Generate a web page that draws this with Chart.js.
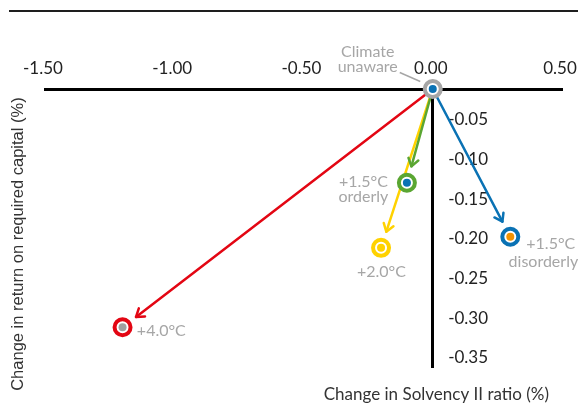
<!DOCTYPE html>
<html>
<head>
<meta charset="utf-8">
<script src="https://cdn.jsdelivr.net/npm/chart.js@4.4.1/dist/chart.umd.min.js"></script>
<style>
html,body{margin:0;padding:0;background:#fff;}
#wrap{position:relative;width:578px;height:403px;overflow:hidden;}
#rule{position:absolute;left:9px;top:10px;width:569px;border-top:2px solid #1e1e1e;}
canvas{display:block;}
</style>
</head>
<body>
<div id="wrap"><canvas id="c" width="578" height="403"></canvas><div id="rule"></div></div>
<script>
// ---- data ----
const scenarios = ['Climate unaware', '+1.5°C orderly', '+2.0°C', '+1.5°C disorderly', '+4.0°C'];
const scenarioLabelLines = [['Climate', 'unaware'], ['+1.5°C', 'orderly'], ['+2.0°C'], ['+1.5°C', 'disorderly'], ['+4.0°C']];
const solvencyChange = [0, -0.10, -0.20, 0.30, -1.20];      // x: change in Solvency II ratio (%)
const returnChange   = [0, -0.118, -0.20, -0.186, -0.30];   // y: change in return on required capital (%)
const xTickValues = [-1.5, -1.0, -0.5, 0, 0.5];
const yTickValues = [-0.05, -0.10, -0.15, -0.20, -0.25, -0.30, -0.35];
const xTitle = 'Change in Solvency II ratio (%)';
const yTitle = 'Change in return on required capital (%)';

// ---- styles ----
const ringColors  = ['#A6A6A6', '#5AA632', '#FFD200', '#0A72B4', '#E30613'];
const dotColors   = ['#0A72B4', '#0A72B4', '#FFD200', '#F39200', '#A0A0A0'];
const arrowColors = [null, '#5AA632', '#FFD200', '#0A72B4', '#E30613'];
const arrowOrder  = [4, 2, 1, 3];
const arrowGap = 17;
const labelPlacement = [
  [{dx: -65, dy: -37.6, align: 'center'}, {dx: -65, dy: -22.6, align: 'center'}],
  [{dx: -43.5, dy: -1, align: 'center'}, {dx: -43.5, dy: 14.3, align: 'center'}],
  [{dx: 0.3, dy: 24.4, align: 'center'}],
  [{dx: 16, dy: 7.3, align: 'left'}, {dx: -1.7, dy: 25, align: 'left'}],
  [{dx: 14.3, dy: 4, align: 'left'}]
];
const leader = [-33, -16.5, -12.5, -7.5]; // relative to "Climate unaware" point

const points = solvencyChange.map((v, i) => ({x: v, y: returnChange[i]}));
const fmt = v => Number(v).toFixed(2);

const scenarioPlugin = {
  id: 'scenarioArrows',
  beforeDatasetsDraw(chart) {
    const {ctx, scales: {x, y}} = chart;
    const ox = x.getPixelForValue(solvencyChange[0]);
    const oy = y.getPixelForValue(returnChange[0]);
    ctx.save();
    ctx.lineWidth = 2.5;
    ctx.lineCap = 'round';
    ctx.lineJoin = 'round';
    arrowOrder.forEach(i => {
      const tx = x.getPixelForValue(solvencyChange[i]);
      const ty = y.getPixelForValue(returnChange[i]);
      const dx = tx - ox, dy = ty - oy, len = Math.hypot(dx, dy);
      const ex = tx - dx / len * arrowGap, ey = ty - dy / len * arrowGap;
      const a = Math.atan2(dy, dx), h = 9, s = 0.6;
      ctx.strokeStyle = arrowColors[i];
      ctx.beginPath();
      ctx.moveTo(ox, oy);
      ctx.lineTo(ex, ey);
      ctx.stroke();
      ctx.beginPath();
      ctx.moveTo(ex - h * Math.cos(a - s), ey - h * Math.sin(a - s));
      ctx.lineTo(ex, ey);
      ctx.lineTo(ex - h * Math.cos(a + s), ey - h * Math.sin(a + s));
      ctx.stroke();
    });
    ctx.restore();
  },
  afterDatasetsDraw(chart) {
    const {ctx, scales: {x, y}} = chart;
    ctx.save();
    ctx.font = '16px Lato';
    ctx.fillStyle = '#A6A6A6';
    ctx.textBaseline = 'middle';
    scenarioLabelLines.forEach((lines, i) => {
      const px = x.getPixelForValue(solvencyChange[i]);
      const py = y.getPixelForValue(returnChange[i]);
      lines.forEach((t, j) => {
        const p = labelPlacement[i][j];
        ctx.textAlign = p.align;
        ctx.fillText(t, px + p.dx, py + p.dy);
      });
    });
    const ox = x.getPixelForValue(solvencyChange[0]);
    const oy = y.getPixelForValue(returnChange[0]);
    ctx.strokeStyle = '#A6A6A6';
    ctx.lineWidth = 1.4;
    ctx.beginPath();
    ctx.moveTo(ox + leader[0], oy + leader[1]);
    ctx.lineTo(ox + leader[2], oy + leader[3]);
    ctx.stroke();
    ctx.restore();
  }
};

const noGrid = {display: false, drawTicks: false};

new Chart(document.getElementById('c'), {
  type: 'scatter',
  data: {
    datasets: [
      {label: 'rings', data: points, xAxisID: 'x', yAxisID: 'y', pointRadius: 8, pointHoverRadius: 8,
       pointBorderWidth: 4, pointBorderColor: ringColors, pointBackgroundColor: '#ffffff', clip: false, order: 2},
      {label: 'centres', data: points, xAxisID: 'x', yAxisID: 'y', pointRadius: 4, pointHoverRadius: 4,
       pointBorderWidth: 0, pointBackgroundColor: dotColors, clip: false, order: 1}
    ]
  },
  options: {
    responsive: false,
    devicePixelRatio: 1,
    animation: false,
    events: [],
    layout: {padding: {left: 8.6, right: 16, top: 89, bottom: 0}},
    plugins: {legend: {display: false}, tooltip: {enabled: false}},
    scales: {
      x: {
        type: 'linear', axis: 'x', position: {y: 0}, min: -1.5, max: 0.5,
        grid: noGrid, border: {display: true, color: '#000', width: 3},
        afterBuildTicks: s => { s.ticks = xTickValues.map(v => ({value: v})); },
        ticks: {padding: -31, labelOffset: -2, color: '#222', font: {family: 'Lato', size: 17}, callback: v => fmt(v)}
      },
      y: {
        type: 'linear', axis: 'y', position: {x: 0}, min: -0.35, max: 0,
        grid: noGrid, border: {display: true, color: '#000', width: 3},
        ticks: {display: false}
      },
      yL: {
        type: 'linear', axis: 'y', position: {x: 0.214}, min: -0.35, max: 0,
        grid: noGrid, border: {display: false},
        afterBuildTicks: s => { s.ticks = yTickValues.map(v => ({value: v})); },
        ticks: {labelOffset: -9, color: '#222', font: {family: 'Lato', size: 17}, callback: v => fmt(v)}
      },
      yT: {
        type: 'linear', axis: 'y', position: 'left', min: 0, max: 1, display: true,
        grid: noGrid, border: {display: false}, ticks: {display: false},
        title: {display: true, text: yTitle + '       ', color: '#333',
                font: {family: 'Liberation Sans', size: 16.5}, padding: {top: 0, bottom: 16.6}}
      },
      xT: {
        type: 'linear', axis: 'x', position: 'bottom', min: 0, max: 1, display: true,
        grid: noGrid, border: {display: false}, ticks: {display: false},
        title: {display: true, text: xTitle + '   ', align: 'end', color: '#333',
                font: {family: 'Lato', size: 17}, padding: {top: 17.6, bottom: -2}}
      }
    }
  },
  plugins: [scenarioPlugin]
});
</script>
</body>
</html>
